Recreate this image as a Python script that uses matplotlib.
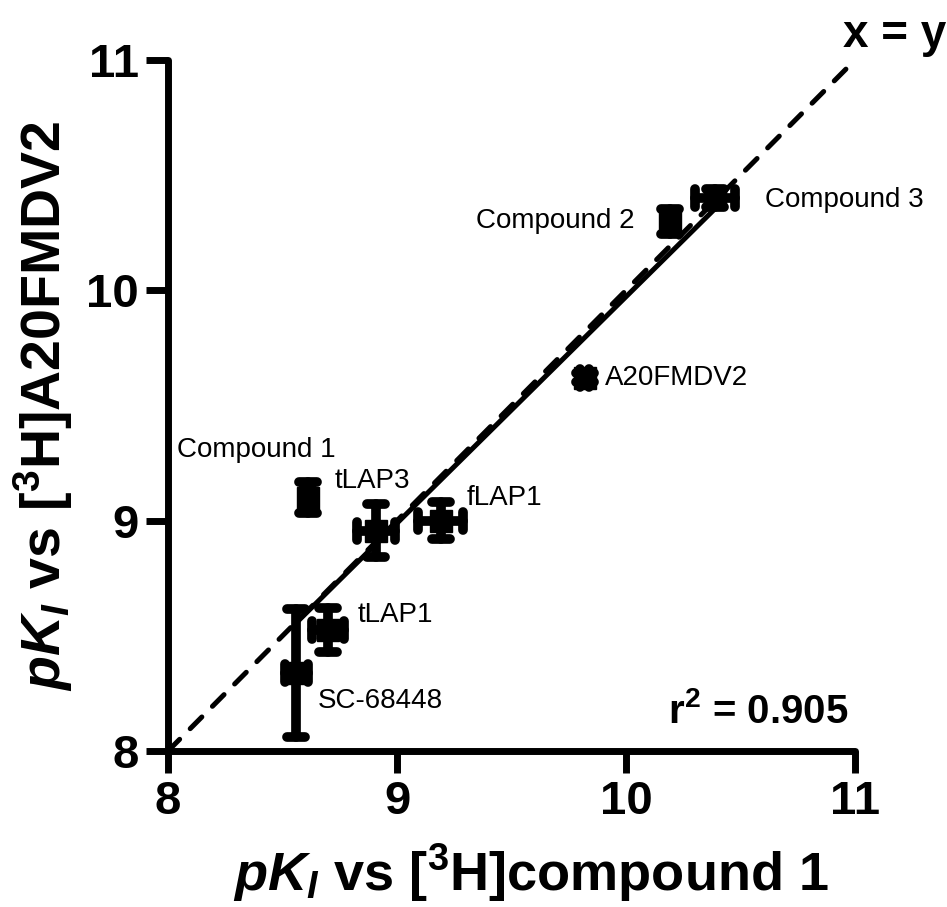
import matplotlib
matplotlib.use("Agg")
import matplotlib.pyplot as plt
import numpy as np
from matplotlib.markers import MarkerStyle

plt.rcParams['font.family'] = ['Liberation Sans', 'DejaVu Sans']
plt.rcParams['mathtext.fontset'] = 'custom'
plt.rcParams['mathtext.rm'] = 'Liberation Sans:bold'
plt.rcParams['mathtext.bf'] = 'Liberation Sans:bold'
plt.rcParams['mathtext.it'] = 'Liberation Sans:italic:bold'

# ---- data ----
names = ['SC-68448', 'tLAP1', 'tLAP3', 'Compound 1', 'fLAP1',
         'A20FMDV2', 'Compound 2', 'Compound 3']
pki_compound1 = [8.56, 8.70, 8.91, 8.61, 9.19, 9.82, 10.19, 10.39]
pki_a20fmdv2 = [8.34, 8.525, 8.957, 9.10, 9.00, 9.62, 10.30, 10.40]
xerr = [0.05, 0.07, 0.083, 0.02, 0.10, 0.02, 0.02, 0.087]
yerr = [0.278, 0.095, 0.115, 0.067, 0.08, 0.02, 0.055, 0.04]
# label anchor (data coords, baseline) and alignment
label_x = [8.655, 8.830, 8.729, 8.039, 9.306, 9.908, 10.039, 10.607]
label_y = [8.187, 8.560, 9.142, 9.277, 9.068, 9.589, 10.271, 10.362]
label_ha = ['left', 'left', 'left', 'left', 'left', 'left', 'right', 'left']
ticks = [8, 9, 10, 11]
r2_text = '0.905'

fig = plt.figure(figsize=(9.47, 9.07), dpi=100)
ax = fig.add_axes([168/947, 156/907, 687/947, 691/907])

x = np.array(pki_compound1)
y = np.array(pki_a20fmdv2)

# identity line
ax.plot([ticks[0], ticks[-1]], [ticks[0], ticks[-1]], color='black', lw=3.6,
        dashes=(3.3, 3.0), dash_capstyle='round', clip_on=False, zorder=2)

# regression line
slope, intercept = np.polyfit(x, y, 1)
xr = np.array([x.min(), x.max()])
ax.plot(xr, slope * xr + intercept, color='black', lw=3.6,
        solid_capstyle='butt', zorder=2)

eb = ax.errorbar(x, y, xerr=xerr, yerr=yerr, fmt='s', color='black',
                 markersize=16.5, elinewidth=7, capsize=6.5, capthick=7,
                 zorder=3)
_, caplines, barcols = eb.lines
for cl in caplines:
    m = cl.get_marker()
    cl.set_marker(MarkerStyle(m, capstyle='round'))
for bc in barcols:
    bc.set_capstyle('round')

for nm, lx, ly, ha in zip(names, label_x, label_y, label_ha):
    ax.text(lx, ly, nm, fontsize=20, ha=ha, va='baseline',
            family='Liberation Sans')

ax.text(11.40, 11.055, 'x = y', fontsize=33, fontweight='bold',
        ha='right', va='baseline', clip_on=False)
ax.text(10.97, 8.12, r'r$^{2}$ = ' + r2_text, fontsize=29, fontweight='bold',
        ha='right', va='baseline')

ax.set_xlim(ticks[0], ticks[-1])
ax.set_ylim(ticks[0], ticks[-1])
ax.set_xticks(ticks)
ax.set_yticks(ticks)
ax.set_xticklabels([str(t) for t in ticks])
ax.set_yticklabels([str(t) for t in ticks])
for s in ['top', 'right']:
    ax.spines[s].set_visible(False)
for s in ['left', 'bottom']:
    ax.spines[s].set_linewidth(5)
    ax.spines[s].set_capstyle('round')
ax.tick_params(direction='out', length=16, width=5, pad=5,
               labelsize=34)
for lab in ax.get_xticklabels() + ax.get_yticklabels():
    lab.set_fontweight('bold')

ax.set_xlabel(r'$pK_I$ vs [$^{3}$H]compound 1', fontsize=39,
              fontweight='bold')
ax.xaxis.set_label_coords(0.528, -0.132, transform=ax.transAxes)
ax.xaxis.label.set_va('top')
ax.set_ylabel(r'$pK_I$ vs [$^{3}$H]A20FMDV2', fontsize=40,
              fontweight='bold', labelpad=8)

fig.savefig('out.png', dpi=100, facecolor='white')
